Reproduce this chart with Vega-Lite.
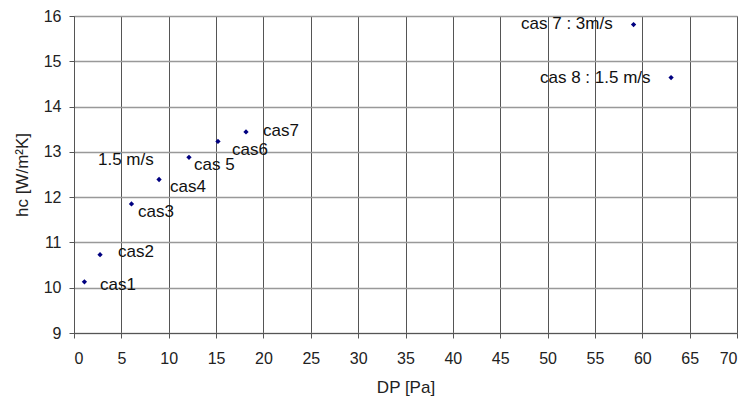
{
  "$schema": "https://vega.github.io/schema/vega-lite/v6.json",
  "width": 663,
  "height": 317,
  "autosize": "none",
  "padding": {"left": 74, "top": 16, "right": 11, "bottom": 68},
  "background": "white",
  "config": {
    "view": {"stroke": "#888", "strokeWidth": 1},
    "font": "Liberation Sans"
  },
  "datasets": {
    "pts": [
      {"DP": 1.1, "hc": 10.13},
      {"DP": 2.75, "hc": 10.73},
      {"DP": 6.07, "hc": 11.85},
      {"DP": 8.98, "hc": 12.39},
      {"DP": 12.14, "hc": 12.88},
      {"DP": 15.2, "hc": 13.23},
      {"DP": 18.16, "hc": 13.44},
      {"DP": 59.08, "hc": 15.81},
      {"DP": 63.04, "hc": 14.64}
    ],
    "labels": [
      {"DP": 2.75, "hc": 10.06, "text": "cas1"},
      {"DP": 4.65, "hc": 10.79, "text": "cas2"},
      {"DP": 6.76, "hc": 11.68, "text": "cas3"},
      {"DP": 10.14, "hc": 12.23, "text": "cas4"},
      {"DP": 12.67, "hc": 12.7, "text": "cas 5"},
      {"DP": 16.68, "hc": 13.03, "text": "cas6"},
      {"DP": 19.96, "hc": 13.45, "text": "cas7"},
      {"DP": 2.53, "hc": 12.81, "text": "1.5 m/s"},
      {"DP": 47.2, "hc": 15.82, "text": "cas 7 : 3m/s"},
      {"DP": 49.2, "hc": 14.63, "text": "cas 8 : 1.5 m/s"}
    ]
  },
  "layer": [
    {
      "data": {"name": "pts"},
      "mark": {"type": "point", "shape": "diamond", "filled": true, "color": "#000080", "size": 28, "opacity": 1},
      "encoding": {
        "x": {
          "field": "DP", "type": "quantitative",
          "scale": {"domain": [0, 70], "nice": false, "zero": false},
          "axis": {
            "title": "DP [Pa]", "values": [0,5,10,15,20,25,30,35,40,45,50,55,60,65,70],
            "grid": true, "gridColor": "#555", "gridOpacity": 1, "gridWidth": 1,
            "domainColor": "#555", "tickColor": "#555", "tickSize": 5,
            "labelFont": "Liberation Sans", "labelFontSize": 16, "labelColor": "#222", "labelPadding": 12,
            "titleFont": "Liberation Sans", "titleFontSize": 17, "titleFontWeight": "normal", "titleColor": "#222", "titlePadding": 13
          }
        },
        "y": {
          "field": "hc", "type": "quantitative",
          "scale": {"domain": [9, 16], "nice": false, "zero": false},
          "axis": {
            "title": "hc [W/m²K]", "values": [9,10,11,12,13,14,15,16],
            "grid": true, "gridColor": "#999", "gridOpacity": 1, "gridWidth": 1.5,
            "domainColor": "#555", "tickColor": "#555", "tickSize": 5,
            "labelFont": "Liberation Sans", "labelFontSize": 16, "labelColor": "#222", "labelPadding": 8,
            "titleFont": "Liberation Sans", "titleFontSize": 17, "titleFontWeight": "normal", "titleColor": "#222", "titlePadding": 12
          }
        }
      }
    },
    {
      "data": {"name": "labels"},
      "mark": {"type": "text", "align": "left", "baseline": "middle", "font": "Liberation Sans", "fontSize": 17, "color": "#111"},
      "encoding": {
        "x": {"field": "DP", "type": "quantitative"},
        "y": {"field": "hc", "type": "quantitative"},
        "text": {"field": "text"}
      }
    }
  ]
}
